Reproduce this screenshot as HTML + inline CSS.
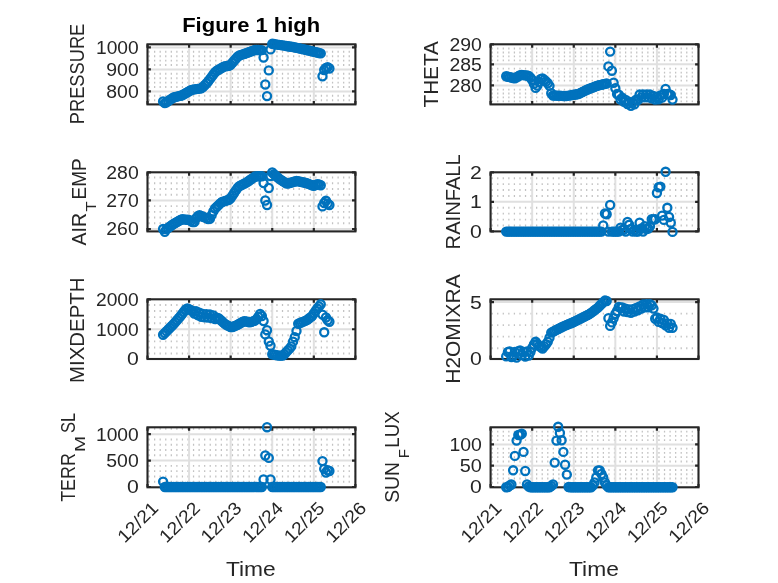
<!DOCTYPE html>
<html><head><meta charset="utf-8"><title>Figure 1 high</title>
<style>html,body{margin:0;padding:0;background:#fff}svg{display:block}</style></head>
<body>
<svg width="778" height="583" viewBox="0 0 778 583" font-family="'Liberation Sans', sans-serif">
<rect width="778" height="583" fill="#fff"/>
<g><path d="M148.45 100.20H354.40M148.45 95.80H354.40M148.45 87.00H354.40M148.45 82.60H354.40M148.45 78.20H354.40M148.45 73.80H354.40M148.45 65.00H354.40M148.45 60.60H354.40M148.45 56.20H354.40M148.45 51.80H354.40" stroke="#c2c2c2" stroke-width="1.9" stroke-dasharray="1.25 4.31" fill="none"/><path d="M147.50 47.40H355.40M147.50 69.40H355.40M147.50 91.40H355.40M189.08 44.30V104.40M230.66 44.30V104.40M272.24 44.30V104.40M313.82 44.30V104.40" stroke="#e0e0e0" stroke-width="2.0" fill="none"/><path d="M147.50 47.40h3.4M355.40 47.40h-3.4M147.50 69.40h3.4M355.40 69.40h-3.4M147.50 91.40h3.4M355.40 91.40h-3.4M147.50 44.30v3.4M147.50 104.40v-3.4M189.08 44.30v3.4M189.08 104.40v-3.4M230.66 44.30v3.4M230.66 104.40v-3.4M272.24 44.30v3.4M272.24 104.40v-3.4M313.82 44.30v3.4M313.82 104.40v-3.4M355.40 44.30v3.4M355.40 104.40v-3.4" stroke="#262626" stroke-width="2.2" fill="none"/><rect x="147.50" y="44.30" width="207.90" height="60.10" fill="none" stroke="#262626" stroke-width="2.1"/><g fill="none" stroke="#0072BD" stroke-width="2.3"><circle cx="163.09" cy="101.50" r="4.05"/><circle cx="164.82" cy="103.13" r="4.05"/><circle cx="166.56" cy="102.21" r="4.05"/><circle cx="168.29" cy="101.00" r="4.05"/><circle cx="170.02" cy="99.79" r="4.05"/><circle cx="171.75" cy="98.58" r="4.05"/><circle cx="173.49" cy="97.45" r="4.05"/><circle cx="175.22" cy="97.03" r="4.05"/><circle cx="176.95" cy="96.60" r="4.05"/><circle cx="178.69" cy="96.17" r="4.05"/><circle cx="180.42" cy="95.74" r="4.05"/><circle cx="182.15" cy="95.20" r="4.05"/><circle cx="183.88" cy="94.20" r="4.05"/><circle cx="185.62" cy="93.20" r="4.05"/><circle cx="187.35" cy="92.21" r="4.05"/><circle cx="189.08" cy="91.21" r="4.05"/><circle cx="190.81" cy="90.21" r="4.05"/><circle cx="192.55" cy="89.58" r="4.05"/><circle cx="194.28" cy="89.34" r="4.05"/><circle cx="196.01" cy="89.09" r="4.05"/><circle cx="197.74" cy="88.85" r="4.05"/><circle cx="199.47" cy="88.60" r="4.05"/><circle cx="201.21" cy="88.36" r="4.05"/><circle cx="202.94" cy="86.96" r="4.05"/><circle cx="204.67" cy="85.23" r="4.05"/><circle cx="206.41" cy="83.49" r="4.05"/><circle cx="208.14" cy="81.45" r="4.05"/><circle cx="209.87" cy="79.15" r="4.05"/><circle cx="211.60" cy="76.85" r="4.05"/><circle cx="213.33" cy="74.54" r="4.05"/><circle cx="215.07" cy="72.24" r="4.05"/><circle cx="216.80" cy="70.75" r="4.05"/><circle cx="218.53" cy="69.73" r="4.05"/><circle cx="220.26" cy="68.71" r="4.05"/><circle cx="222.00" cy="67.70" r="4.05"/><circle cx="223.73" cy="66.68" r="4.05"/><circle cx="225.46" cy="66.24" r="4.05"/><circle cx="227.19" cy="66.03" r="4.05"/><circle cx="228.93" cy="65.82" r="4.05"/><circle cx="230.66" cy="64.81" r="4.05"/><circle cx="232.39" cy="62.80" r="4.05"/><circle cx="234.12" cy="60.78" r="4.05"/><circle cx="235.86" cy="58.76" r="4.05"/><circle cx="237.59" cy="56.74" r="4.05"/><circle cx="239.32" cy="55.49" r="4.05"/><circle cx="241.06" cy="54.91" r="4.05"/><circle cx="242.79" cy="54.34" r="4.05"/><circle cx="244.52" cy="53.76" r="4.05"/><circle cx="246.25" cy="53.18" r="4.05"/><circle cx="247.99" cy="52.57" r="4.05"/><circle cx="249.72" cy="51.93" r="4.05"/><circle cx="251.45" cy="51.30" r="4.05"/><circle cx="253.18" cy="50.66" r="4.05"/><circle cx="254.91" cy="50.03" r="4.05"/><circle cx="256.65" cy="50.03" r="4.05"/><circle cx="258.38" cy="50.05" r="4.05"/><circle cx="260.11" cy="50.08" r="4.05"/><circle cx="261.85" cy="50.10" r="4.05"/><circle cx="263.58" cy="57.50" r="4.05"/><circle cx="265.31" cy="84.50" r="4.05"/><circle cx="267.04" cy="96.10" r="4.05"/><circle cx="268.77" cy="70.40" r="4.05"/><circle cx="270.51" cy="49.40" r="4.05"/><circle cx="272.24" cy="43.81" r="4.05"/><circle cx="273.97" cy="44.07" r="4.05"/><circle cx="275.70" cy="44.34" r="4.05"/><circle cx="277.44" cy="44.60" r="4.05"/><circle cx="279.17" cy="44.87" r="4.05"/><circle cx="280.90" cy="45.14" r="4.05"/><circle cx="282.63" cy="45.40" r="4.05"/><circle cx="284.37" cy="45.67" r="4.05"/><circle cx="286.10" cy="45.93" r="4.05"/><circle cx="287.83" cy="46.20" r="4.05"/><circle cx="289.56" cy="46.46" r="4.05"/><circle cx="291.30" cy="46.73" r="4.05"/><circle cx="293.03" cy="47.04" r="4.05"/><circle cx="294.76" cy="47.42" r="4.05"/><circle cx="296.50" cy="47.79" r="4.05"/><circle cx="298.23" cy="48.17" r="4.05"/><circle cx="299.96" cy="48.55" r="4.05"/><circle cx="301.69" cy="48.93" r="4.05"/><circle cx="303.42" cy="49.31" r="4.05"/><circle cx="305.16" cy="49.69" r="4.05"/><circle cx="306.89" cy="50.07" r="4.05"/><circle cx="308.62" cy="50.49" r="4.05"/><circle cx="310.36" cy="50.90" r="4.05"/><circle cx="312.09" cy="51.32" r="4.05"/><circle cx="313.82" cy="51.73" r="4.05"/><circle cx="315.55" cy="52.15" r="4.05"/><circle cx="317.28" cy="52.57" r="4.05"/><circle cx="319.02" cy="52.98" r="4.05"/><circle cx="320.75" cy="53.40" r="4.05"/><circle cx="322.48" cy="76.30" r="4.05"/><circle cx="324.22" cy="70.00" r="4.05"/><circle cx="325.95" cy="68.00" r="4.05"/><circle cx="327.68" cy="67.10" r="4.05"/><circle cx="329.41" cy="68.50" r="4.05"/></g><text x="138.70" y="53.85" font-size="18" text-anchor="end" fill="#262626" textLength="42.7" lengthAdjust="spacingAndGlyphs">1000</text><text x="138.70" y="75.85" font-size="18" text-anchor="end" fill="#262626" textLength="32.4" lengthAdjust="spacingAndGlyphs">900</text><text x="138.70" y="97.85" font-size="18" text-anchor="end" fill="#262626" textLength="32.4" lengthAdjust="spacingAndGlyphs">800</text><text transform="translate(83.80 124.20) rotate(-90)" font-size="19.6" fill="#262626" textLength="100.5" lengthAdjust="spacingAndGlyphs">PRESSURE</text></g>
<g><path d="M491.55 48.50H697.50M491.55 52.50H697.50M491.55 56.40H697.50M491.55 60.40H697.50M491.55 68.60H697.50M491.55 72.60H697.50M491.55 76.50H697.50M491.55 80.60H697.50M491.55 89.60H697.50M491.55 93.50H697.50M491.55 97.40H697.50M491.55 101.40H697.50" stroke="#c2c2c2" stroke-width="1.9" stroke-dasharray="1.25 4.31" fill="none"/><path d="M490.60 64.30H698.50M490.60 85.40H698.50M532.18 44.30V104.40M573.76 44.30V104.40M615.34 44.30V104.40M656.92 44.30V104.40" stroke="#e0e0e0" stroke-width="2.0" fill="none"/><path d="M490.60 44.30h3.4M698.50 44.30h-3.4M490.60 64.30h3.4M698.50 64.30h-3.4M490.60 85.40h3.4M698.50 85.40h-3.4M490.60 44.30v3.4M490.60 104.40v-3.4M532.18 44.30v3.4M532.18 104.40v-3.4M573.76 44.30v3.4M573.76 104.40v-3.4M615.34 44.30v3.4M615.34 104.40v-3.4M656.92 44.30v3.4M656.92 104.40v-3.4M698.50 44.30v3.4M698.50 104.40v-3.4" stroke="#262626" stroke-width="2.2" fill="none"/><rect x="490.60" y="44.30" width="207.90" height="60.10" fill="none" stroke="#262626" stroke-width="2.1"/><g fill="none" stroke="#0072BD" stroke-width="2.3"><circle cx="506.19" cy="76.30" r="4.05"/><circle cx="507.93" cy="76.72" r="4.05"/><circle cx="509.66" cy="77.13" r="4.05"/><circle cx="511.39" cy="77.55" r="4.05"/><circle cx="513.12" cy="77.97" r="4.05"/><circle cx="514.86" cy="78.39" r="4.05"/><circle cx="516.59" cy="77.35" r="4.05"/><circle cx="518.32" cy="76.26" r="4.05"/><circle cx="520.05" cy="75.18" r="4.05"/><circle cx="521.78" cy="75.02" r="4.05"/><circle cx="523.52" cy="75.17" r="4.05"/><circle cx="525.25" cy="75.33" r="4.05"/><circle cx="526.98" cy="75.48" r="4.05"/><circle cx="528.72" cy="76.02" r="4.05"/><circle cx="530.45" cy="77.75" r="4.05"/><circle cx="532.18" cy="79.95" r="4.05"/><circle cx="533.91" cy="83.81" r="4.05"/><circle cx="535.64" cy="87.92" r="4.05"/><circle cx="537.38" cy="85.64" r="4.05"/><circle cx="539.11" cy="82.02" r="4.05"/><circle cx="540.84" cy="78.98" r="4.05"/><circle cx="542.58" cy="78.47" r="4.05"/><circle cx="544.31" cy="79.99" r="4.05"/><circle cx="546.04" cy="81.51" r="4.05"/><circle cx="547.77" cy="83.26" r="4.05"/><circle cx="549.50" cy="85.86" r="4.05"/><circle cx="551.24" cy="93.20" r="4.05"/><circle cx="552.97" cy="95.47" r="4.05"/><circle cx="554.70" cy="95.55" r="4.05"/><circle cx="556.44" cy="95.64" r="4.05"/><circle cx="558.17" cy="95.72" r="4.05"/><circle cx="559.90" cy="95.81" r="4.05"/><circle cx="561.63" cy="95.89" r="4.05"/><circle cx="563.37" cy="95.98" r="4.05"/><circle cx="565.10" cy="96.07" r="4.05"/><circle cx="566.83" cy="95.93" r="4.05"/><circle cx="568.56" cy="95.64" r="4.05"/><circle cx="570.30" cy="95.36" r="4.05"/><circle cx="572.03" cy="95.07" r="4.05"/><circle cx="573.76" cy="94.78" r="4.05"/><circle cx="575.49" cy="94.50" r="4.05"/><circle cx="577.23" cy="94.21" r="4.05"/><circle cx="578.96" cy="93.77" r="4.05"/><circle cx="580.69" cy="92.89" r="4.05"/><circle cx="582.42" cy="92.02" r="4.05"/><circle cx="584.15" cy="91.14" r="4.05"/><circle cx="585.89" cy="90.26" r="4.05"/><circle cx="587.62" cy="89.46" r="4.05"/><circle cx="589.35" cy="88.80" r="4.05"/><circle cx="591.09" cy="88.14" r="4.05"/><circle cx="592.82" cy="87.48" r="4.05"/><circle cx="594.55" cy="86.82" r="4.05"/><circle cx="596.28" cy="86.16" r="4.05"/><circle cx="598.01" cy="85.50" r="4.05"/><circle cx="599.75" cy="85.10" r="4.05"/><circle cx="601.48" cy="84.70" r="4.05"/><circle cx="603.21" cy="84.30" r="4.05"/><circle cx="604.95" cy="83.90" r="4.05"/><circle cx="606.68" cy="83.50" r="4.05"/><circle cx="608.41" cy="66.40" r="4.05"/><circle cx="610.14" cy="51.60" r="4.05"/><circle cx="611.88" cy="70.70" r="4.05"/><circle cx="613.61" cy="82.70" r="4.05"/><circle cx="615.34" cy="88.30" r="4.05"/><circle cx="617.07" cy="94.07" r="4.05"/><circle cx="618.81" cy="94.76" r="4.05"/><circle cx="620.54" cy="99.46" r="4.05"/><circle cx="622.27" cy="97.81" r="4.05"/><circle cx="624.00" cy="101.91" r="4.05"/><circle cx="625.74" cy="100.00" r="4.05"/><circle cx="627.47" cy="104.03" r="4.05"/><circle cx="629.20" cy="101.90" r="4.05"/><circle cx="630.93" cy="105.77" r="4.05"/><circle cx="632.66" cy="102.17" r="4.05"/><circle cx="634.40" cy="104.30" r="4.05"/><circle cx="636.13" cy="99.71" r="4.05"/><circle cx="637.86" cy="100.13" r="4.05"/><circle cx="639.60" cy="94.56" r="4.05"/><circle cx="641.33" cy="97.40" r="4.05"/><circle cx="643.06" cy="94.40" r="4.05"/><circle cx="644.79" cy="97.40" r="4.05"/><circle cx="646.52" cy="94.40" r="4.05"/><circle cx="648.26" cy="97.40" r="4.05"/><circle cx="649.99" cy="94.56" r="4.05"/><circle cx="651.72" cy="98.25" r="4.05"/><circle cx="653.46" cy="95.94" r="4.05"/><circle cx="655.19" cy="99.63" r="4.05"/><circle cx="656.92" cy="97.04" r="4.05"/><circle cx="658.65" cy="99.20" r="4.05"/><circle cx="660.38" cy="95.35" r="4.05"/><circle cx="662.12" cy="97.67" r="4.05"/><circle cx="663.85" cy="94.05" r="4.05"/><circle cx="665.58" cy="89.00" r="4.05"/><circle cx="667.32" cy="94.05" r="4.05"/><circle cx="669.05" cy="94.27" r="4.05"/><circle cx="670.78" cy="95.00" r="4.05"/><circle cx="672.51" cy="99.60" r="4.05"/></g><text x="481.80" y="50.75" font-size="18" text-anchor="end" fill="#262626" textLength="32.4" lengthAdjust="spacingAndGlyphs">290</text><text x="481.80" y="70.75" font-size="18" text-anchor="end" fill="#262626" textLength="32.4" lengthAdjust="spacingAndGlyphs">285</text><text x="481.80" y="91.85" font-size="18" text-anchor="end" fill="#262626" textLength="32.4" lengthAdjust="spacingAndGlyphs">280</text><text transform="translate(438.10 107.50) rotate(-90)" font-size="19.6" fill="#262626" textLength="66.3" lengthAdjust="spacingAndGlyphs">THETA</text></g>
<g><path d="M148.45 223.28H354.40M148.45 217.56H354.40M148.45 211.84H354.40M148.45 206.12H354.40M148.45 194.68H354.40M148.45 188.96H354.40M148.45 183.24H354.40M148.45 177.52H354.40" stroke="#c2c2c2" stroke-width="1.9" stroke-dasharray="1.25 4.31" fill="none"/><path d="M147.50 200.40H355.40M147.50 229.00H355.40M189.08 172.30V231.40M230.66 172.30V231.40M272.24 172.30V231.40M313.82 172.30V231.40" stroke="#e0e0e0" stroke-width="2.0" fill="none"/><path d="M147.50 172.30h3.4M355.40 172.30h-3.4M147.50 200.40h3.4M355.40 200.40h-3.4M147.50 229.00h3.4M355.40 229.00h-3.4M147.50 172.30v3.4M147.50 231.40v-3.4M189.08 172.30v3.4M189.08 231.40v-3.4M230.66 172.30v3.4M230.66 231.40v-3.4M272.24 172.30v3.4M272.24 231.40v-3.4M313.82 172.30v3.4M313.82 231.40v-3.4M355.40 172.30v3.4M355.40 231.40v-3.4" stroke="#262626" stroke-width="2.2" fill="none"/><rect x="147.50" y="172.30" width="207.90" height="59.10" fill="none" stroke="#262626" stroke-width="2.1"/><g fill="none" stroke="#0072BD" stroke-width="2.3"><circle cx="163.09" cy="229.05" r="4.05"/><circle cx="164.82" cy="231.86" r="4.05"/><circle cx="166.56" cy="228.96" r="4.05"/><circle cx="168.29" cy="227.71" r="4.05"/><circle cx="170.02" cy="226.46" r="4.05"/><circle cx="171.75" cy="225.21" r="4.05"/><circle cx="173.49" cy="223.99" r="4.05"/><circle cx="175.22" cy="222.99" r="4.05"/><circle cx="176.95" cy="221.99" r="4.05"/><circle cx="178.69" cy="221.00" r="4.05"/><circle cx="180.42" cy="220.00" r="4.05"/><circle cx="182.15" cy="219.23" r="4.05"/><circle cx="183.88" cy="219.41" r="4.05"/><circle cx="185.62" cy="219.58" r="4.05"/><circle cx="187.35" cy="219.75" r="4.05"/><circle cx="189.08" cy="220.04" r="4.05"/><circle cx="190.81" cy="220.91" r="4.05"/><circle cx="192.55" cy="222.08" r="4.05"/><circle cx="194.28" cy="222.16" r="4.05"/><circle cx="196.01" cy="218.35" r="4.05"/><circle cx="197.74" cy="216.13" r="4.05"/><circle cx="199.47" cy="215.23" r="4.05"/><circle cx="201.21" cy="215.96" r="4.05"/><circle cx="202.94" cy="216.70" r="4.05"/><circle cx="204.67" cy="217.43" r="4.05"/><circle cx="206.41" cy="218.16" r="4.05"/><circle cx="208.14" cy="219.10" r="4.05"/><circle cx="209.87" cy="218.88" r="4.05"/><circle cx="211.60" cy="215.14" r="4.05"/><circle cx="213.33" cy="211.39" r="4.05"/><circle cx="215.07" cy="208.53" r="4.05"/><circle cx="216.80" cy="206.80" r="4.05"/><circle cx="218.53" cy="205.07" r="4.05"/><circle cx="220.26" cy="203.34" r="4.05"/><circle cx="222.00" cy="202.00" r="4.05"/><circle cx="223.73" cy="201.43" r="4.05"/><circle cx="225.46" cy="200.86" r="4.05"/><circle cx="227.19" cy="200.29" r="4.05"/><circle cx="228.93" cy="199.72" r="4.05"/><circle cx="230.66" cy="198.26" r="4.05"/><circle cx="232.39" cy="195.65" r="4.05"/><circle cx="234.12" cy="193.04" r="4.05"/><circle cx="235.86" cy="190.43" r="4.05"/><circle cx="237.59" cy="187.82" r="4.05"/><circle cx="239.32" cy="186.14" r="4.05"/><circle cx="241.06" cy="185.27" r="4.05"/><circle cx="242.79" cy="184.41" r="4.05"/><circle cx="244.52" cy="183.54" r="4.05"/><circle cx="246.25" cy="182.67" r="4.05"/><circle cx="247.99" cy="181.55" r="4.05"/><circle cx="249.72" cy="180.30" r="4.05"/><circle cx="251.45" cy="179.05" r="4.05"/><circle cx="253.18" cy="177.81" r="4.05"/><circle cx="254.91" cy="176.56" r="4.05"/><circle cx="256.65" cy="176.37" r="4.05"/><circle cx="258.38" cy="176.23" r="4.05"/><circle cx="260.11" cy="176.09" r="4.05"/><circle cx="261.85" cy="176.27" r="4.05"/><circle cx="263.58" cy="183.10" r="4.05"/><circle cx="265.31" cy="200.50" r="4.05"/><circle cx="267.04" cy="205.00" r="4.05"/><circle cx="268.77" cy="188.00" r="4.05"/><circle cx="270.51" cy="176.00" r="4.05"/><circle cx="272.24" cy="172.49" r="4.05"/><circle cx="273.97" cy="174.09" r="4.05"/><circle cx="275.70" cy="175.70" r="4.05"/><circle cx="277.44" cy="177.30" r="4.05"/><circle cx="279.17" cy="178.68" r="4.05"/><circle cx="280.90" cy="179.85" r="4.05"/><circle cx="282.63" cy="181.01" r="4.05"/><circle cx="284.37" cy="182.17" r="4.05"/><circle cx="286.10" cy="183.33" r="4.05"/><circle cx="287.83" cy="183.51" r="4.05"/><circle cx="289.56" cy="183.02" r="4.05"/><circle cx="291.30" cy="182.53" r="4.05"/><circle cx="293.03" cy="182.04" r="4.05"/><circle cx="294.76" cy="181.55" r="4.05"/><circle cx="296.50" cy="181.06" r="4.05"/><circle cx="298.23" cy="181.32" r="4.05"/><circle cx="299.96" cy="181.69" r="4.05"/><circle cx="301.69" cy="182.06" r="4.05"/><circle cx="303.42" cy="182.43" r="4.05"/><circle cx="305.16" cy="182.79" r="4.05"/><circle cx="306.89" cy="183.22" r="4.05"/><circle cx="308.62" cy="183.91" r="4.05"/><circle cx="310.36" cy="184.60" r="4.05"/><circle cx="312.09" cy="185.29" r="4.05"/><circle cx="313.82" cy="185.79" r="4.05"/><circle cx="315.55" cy="184.95" r="4.05"/><circle cx="317.28" cy="184.10" r="4.05"/><circle cx="319.02" cy="184.35" r="4.05"/><circle cx="320.75" cy="185.20" r="4.05"/><circle cx="322.48" cy="206.40" r="4.05"/><circle cx="324.22" cy="203.00" r="4.05"/><circle cx="325.95" cy="200.80" r="4.05"/><circle cx="327.68" cy="203.60" r="4.05"/><circle cx="329.41" cy="205.00" r="4.05"/></g><text x="138.70" y="178.75" font-size="18" text-anchor="end" fill="#262626" textLength="32.4" lengthAdjust="spacingAndGlyphs">280</text><text x="138.70" y="206.85" font-size="18" text-anchor="end" fill="#262626" textLength="32.4" lengthAdjust="spacingAndGlyphs">270</text><text x="138.70" y="235.45" font-size="18" text-anchor="end" fill="#262626" textLength="32.4" lengthAdjust="spacingAndGlyphs">260</text><text transform="translate(85.90 245.40) rotate(-90)" font-size="19.6" fill="#262626" textLength="32.5" lengthAdjust="spacingAndGlyphs">AIR</text><text transform="translate(95.70 211.70) rotate(-90)" font-size="14" fill="#262626" textLength="10.5" lengthAdjust="spacingAndGlyphs">T</text><text transform="translate(85.90 199.50) rotate(-90)" font-size="19.6" fill="#262626" textLength="41.1" lengthAdjust="spacingAndGlyphs">EMP</text></g>
<g><path d="M491.55 225.49H697.50M491.55 219.58H697.50M491.55 213.67H697.50M491.55 207.76H697.50M491.55 195.94H697.50M491.55 190.03H697.50M491.55 184.12H697.50M491.55 178.21H697.50" stroke="#c2c2c2" stroke-width="1.9" stroke-dasharray="1.25 4.31" fill="none"/><path d="M490.60 201.85H698.50M532.18 172.30V231.40M573.76 172.30V231.40M615.34 172.30V231.40M656.92 172.30V231.40" stroke="#e0e0e0" stroke-width="2.0" fill="none"/><path d="M490.60 172.30h3.4M698.50 172.30h-3.4M490.60 201.85h3.4M698.50 201.85h-3.4M490.60 231.40h3.4M698.50 231.40h-3.4M490.60 172.30v3.4M490.60 231.40v-3.4M532.18 172.30v3.4M532.18 231.40v-3.4M573.76 172.30v3.4M573.76 231.40v-3.4M615.34 172.30v3.4M615.34 231.40v-3.4M656.92 172.30v3.4M656.92 231.40v-3.4M698.50 172.30v3.4M698.50 231.40v-3.4" stroke="#262626" stroke-width="2.2" fill="none"/><rect x="490.60" y="172.30" width="207.90" height="59.10" fill="none" stroke="#262626" stroke-width="2.1"/><g fill="none" stroke="#0072BD" stroke-width="2.3"><circle cx="506.19" cy="231.60" r="4.05"/><circle cx="507.93" cy="231.60" r="4.05"/><circle cx="509.66" cy="231.60" r="4.05"/><circle cx="511.39" cy="231.60" r="4.05"/><circle cx="513.12" cy="231.60" r="4.05"/><circle cx="514.86" cy="231.60" r="4.05"/><circle cx="516.59" cy="231.60" r="4.05"/><circle cx="518.32" cy="231.60" r="4.05"/><circle cx="520.05" cy="231.60" r="4.05"/><circle cx="521.78" cy="231.60" r="4.05"/><circle cx="523.52" cy="231.60" r="4.05"/><circle cx="525.25" cy="231.60" r="4.05"/><circle cx="526.98" cy="231.60" r="4.05"/><circle cx="528.72" cy="231.60" r="4.05"/><circle cx="530.45" cy="231.60" r="4.05"/><circle cx="532.18" cy="231.60" r="4.05"/><circle cx="533.91" cy="231.60" r="4.05"/><circle cx="535.64" cy="231.60" r="4.05"/><circle cx="537.38" cy="231.60" r="4.05"/><circle cx="539.11" cy="231.60" r="4.05"/><circle cx="540.84" cy="231.60" r="4.05"/><circle cx="542.58" cy="231.60" r="4.05"/><circle cx="544.31" cy="231.60" r="4.05"/><circle cx="546.04" cy="231.60" r="4.05"/><circle cx="547.77" cy="231.60" r="4.05"/><circle cx="549.50" cy="231.60" r="4.05"/><circle cx="551.24" cy="231.60" r="4.05"/><circle cx="552.97" cy="231.60" r="4.05"/><circle cx="554.70" cy="231.60" r="4.05"/><circle cx="556.44" cy="231.60" r="4.05"/><circle cx="558.17" cy="231.60" r="4.05"/><circle cx="559.90" cy="231.60" r="4.05"/><circle cx="561.63" cy="231.60" r="4.05"/><circle cx="563.37" cy="231.60" r="4.05"/><circle cx="565.10" cy="231.60" r="4.05"/><circle cx="566.83" cy="231.60" r="4.05"/><circle cx="568.56" cy="231.60" r="4.05"/><circle cx="570.30" cy="231.60" r="4.05"/><circle cx="572.03" cy="231.60" r="4.05"/><circle cx="573.76" cy="231.60" r="4.05"/><circle cx="575.49" cy="231.60" r="4.05"/><circle cx="577.23" cy="231.60" r="4.05"/><circle cx="578.96" cy="231.60" r="4.05"/><circle cx="580.69" cy="231.60" r="4.05"/><circle cx="582.42" cy="231.60" r="4.05"/><circle cx="584.15" cy="231.60" r="4.05"/><circle cx="585.89" cy="231.60" r="4.05"/><circle cx="587.62" cy="231.60" r="4.05"/><circle cx="589.35" cy="231.60" r="4.05"/><circle cx="591.09" cy="231.60" r="4.05"/><circle cx="592.82" cy="231.60" r="4.05"/><circle cx="594.55" cy="231.60" r="4.05"/><circle cx="596.28" cy="231.60" r="4.05"/><circle cx="598.01" cy="231.60" r="4.05"/><circle cx="599.75" cy="231.60" r="4.05"/><circle cx="601.48" cy="231.60" r="4.05"/><circle cx="603.21" cy="225.50" r="4.05"/><circle cx="604.95" cy="213.50" r="4.05"/><circle cx="606.68" cy="214.20" r="4.05"/><circle cx="608.41" cy="231.60" r="4.05"/><circle cx="610.14" cy="205.00" r="4.05"/><circle cx="611.88" cy="231.60" r="4.05"/><circle cx="613.61" cy="231.60" r="4.05"/><circle cx="615.34" cy="231.60" r="4.05"/><circle cx="617.07" cy="231.60" r="4.05"/><circle cx="618.81" cy="231.60" r="4.05"/><circle cx="620.54" cy="227.60" r="4.05"/><circle cx="622.27" cy="230.00" r="4.05"/><circle cx="624.00" cy="229.50" r="4.05"/><circle cx="625.74" cy="231.60" r="4.05"/><circle cx="627.47" cy="222.00" r="4.05"/><circle cx="629.20" cy="224.80" r="4.05"/><circle cx="630.93" cy="229.00" r="4.05"/><circle cx="632.66" cy="231.60" r="4.05"/><circle cx="634.40" cy="230.00" r="4.05"/><circle cx="636.13" cy="231.60" r="4.05"/><circle cx="637.86" cy="231.60" r="4.05"/><circle cx="639.60" cy="222.70" r="4.05"/><circle cx="641.33" cy="228.50" r="4.05"/><circle cx="643.06" cy="231.60" r="4.05"/><circle cx="644.79" cy="226.20" r="4.05"/><circle cx="646.52" cy="229.00" r="4.05"/><circle cx="648.26" cy="228.50" r="4.05"/><circle cx="649.99" cy="226.20" r="4.05"/><circle cx="651.72" cy="219.20" r="4.05"/><circle cx="653.46" cy="219.50" r="4.05"/><circle cx="655.19" cy="219.20" r="4.05"/><circle cx="656.92" cy="193.00" r="4.05"/><circle cx="658.65" cy="187.30" r="4.05"/><circle cx="660.38" cy="186.60" r="4.05"/><circle cx="662.12" cy="215.60" r="4.05"/><circle cx="663.85" cy="219.90" r="4.05"/><circle cx="665.58" cy="171.80" r="4.05"/><circle cx="667.32" cy="207.80" r="4.05"/><circle cx="669.05" cy="217.00" r="4.05"/><circle cx="670.78" cy="222.70" r="4.05"/><circle cx="672.51" cy="231.90" r="4.05"/></g><text x="481.80" y="178.75" font-size="18" text-anchor="end" fill="#262626" textLength="11.8" lengthAdjust="spacingAndGlyphs">2</text><text x="481.80" y="208.30" font-size="18" text-anchor="end" fill="#262626" textLength="11.8" lengthAdjust="spacingAndGlyphs">1</text><text x="481.80" y="237.85" font-size="18" text-anchor="end" fill="#262626" textLength="11.8" lengthAdjust="spacingAndGlyphs">0</text><text transform="translate(460.10 249.40) rotate(-90)" font-size="19.6" fill="#262626" textLength="95.2" lengthAdjust="spacingAndGlyphs">RAINFALL</text></g>
<g><path d="M148.45 353.50H354.40M148.45 347.44H354.40M148.45 341.38H354.40M148.45 335.31H354.40M148.45 323.19H354.40M148.45 317.12H354.40M148.45 311.06H354.40M148.45 305.00H354.40" stroke="#c2c2c2" stroke-width="1.9" stroke-dasharray="1.25 4.31" fill="none"/><path d="M147.50 329.25H355.40M189.08 299.30V359.00M230.66 299.30V359.00M272.24 299.30V359.00M313.82 299.30V359.00" stroke="#e0e0e0" stroke-width="2.0" fill="none"/><path d="M147.50 299.30h3.4M355.40 299.30h-3.4M147.50 329.25h3.4M355.40 329.25h-3.4M147.50 359.00h3.4M355.40 359.00h-3.4M147.50 299.30v3.4M147.50 359.00v-3.4M189.08 299.30v3.4M189.08 359.00v-3.4M230.66 299.30v3.4M230.66 359.00v-3.4M272.24 299.30v3.4M272.24 359.00v-3.4M313.82 299.30v3.4M313.82 359.00v-3.4M355.40 299.30v3.4M355.40 359.00v-3.4" stroke="#262626" stroke-width="2.2" fill="none"/><rect x="147.50" y="299.30" width="207.90" height="59.70" fill="none" stroke="#262626" stroke-width="2.1"/><g fill="none" stroke="#0072BD" stroke-width="2.3"><circle cx="163.09" cy="334.71" r="4.05"/><circle cx="164.82" cy="332.98" r="4.05"/><circle cx="166.56" cy="331.24" r="4.05"/><circle cx="168.29" cy="329.51" r="4.05"/><circle cx="170.02" cy="327.78" r="4.05"/><circle cx="171.75" cy="326.05" r="4.05"/><circle cx="173.49" cy="324.28" r="4.05"/><circle cx="175.22" cy="322.28" r="4.05"/><circle cx="176.95" cy="320.28" r="4.05"/><circle cx="178.69" cy="318.28" r="4.05"/><circle cx="180.42" cy="316.28" r="4.05"/><circle cx="182.15" cy="313.99" r="4.05"/><circle cx="183.88" cy="311.71" r="4.05"/><circle cx="185.62" cy="309.43" r="4.05"/><circle cx="187.35" cy="308.33" r="4.05"/><circle cx="189.08" cy="309.23" r="4.05"/><circle cx="190.81" cy="310.12" r="4.05"/><circle cx="192.55" cy="311.01" r="4.05"/><circle cx="194.28" cy="313.55" r="4.05"/><circle cx="196.01" cy="311.17" r="4.05"/><circle cx="197.74" cy="315.18" r="4.05"/><circle cx="199.47" cy="312.80" r="4.05"/><circle cx="201.21" cy="316.82" r="4.05"/><circle cx="202.94" cy="313.91" r="4.05"/><circle cx="204.67" cy="317.25" r="4.05"/><circle cx="206.41" cy="314.20" r="4.05"/><circle cx="208.14" cy="317.54" r="4.05"/><circle cx="209.87" cy="314.48" r="4.05"/><circle cx="211.60" cy="318.09" r="4.05"/><circle cx="213.33" cy="315.35" r="4.05"/><circle cx="215.07" cy="319.00" r="4.05"/><circle cx="216.80" cy="317.75" r="4.05"/><circle cx="218.53" cy="318.23" r="4.05"/><circle cx="220.26" cy="319.77" r="4.05"/><circle cx="222.00" cy="321.30" r="4.05"/><circle cx="223.73" cy="322.84" r="4.05"/><circle cx="225.46" cy="324.38" r="4.05"/><circle cx="227.19" cy="325.31" r="4.05"/><circle cx="228.93" cy="326.19" r="4.05"/><circle cx="230.66" cy="327.07" r="4.05"/><circle cx="232.39" cy="326.97" r="4.05"/><circle cx="234.12" cy="326.29" r="4.05"/><circle cx="235.86" cy="325.61" r="4.05"/><circle cx="237.59" cy="324.79" r="4.05"/><circle cx="239.32" cy="323.77" r="4.05"/><circle cx="241.06" cy="322.74" r="4.05"/><circle cx="242.79" cy="321.72" r="4.05"/><circle cx="244.52" cy="321.12" r="4.05"/><circle cx="246.25" cy="321.53" r="4.05"/><circle cx="247.99" cy="321.93" r="4.05"/><circle cx="249.72" cy="322.33" r="4.05"/><circle cx="251.45" cy="321.87" r="4.05"/><circle cx="253.18" cy="321.23" r="4.05"/><circle cx="254.91" cy="320.59" r="4.05"/><circle cx="256.65" cy="319.06" r="4.05"/><circle cx="258.38" cy="316.80" r="4.05"/><circle cx="260.11" cy="314.00" r="4.05"/><circle cx="261.85" cy="316.00" r="4.05"/><circle cx="263.58" cy="321.00" r="4.05"/><circle cx="265.31" cy="334.40" r="4.05"/><circle cx="267.04" cy="330.20" r="4.05"/><circle cx="268.77" cy="341.50" r="4.05"/><circle cx="270.51" cy="345.70" r="4.05"/><circle cx="272.24" cy="354.21" r="4.05"/><circle cx="273.97" cy="354.61" r="4.05"/><circle cx="275.70" cy="355.00" r="4.05"/><circle cx="277.44" cy="355.40" r="4.05"/><circle cx="279.17" cy="355.60" r="4.05"/><circle cx="280.90" cy="355.60" r="4.05"/><circle cx="282.63" cy="355.60" r="4.05"/><circle cx="284.37" cy="354.24" r="4.05"/><circle cx="286.10" cy="352.22" r="4.05"/><circle cx="287.83" cy="350.37" r="4.05"/><circle cx="289.56" cy="348.63" r="4.05"/><circle cx="291.30" cy="346.39" r="4.05"/><circle cx="293.03" cy="341.69" r="4.05"/><circle cx="294.76" cy="337.19" r="4.05"/><circle cx="296.50" cy="331.02" r="4.05"/><circle cx="298.23" cy="323.75" r="4.05"/><circle cx="299.96" cy="323.03" r="4.05"/><circle cx="301.69" cy="322.32" r="4.05"/><circle cx="303.42" cy="321.61" r="4.05"/><circle cx="305.16" cy="320.89" r="4.05"/><circle cx="306.89" cy="320.08" r="4.05"/><circle cx="308.62" cy="318.75" r="4.05"/><circle cx="310.36" cy="317.42" r="4.05"/><circle cx="312.09" cy="316.09" r="4.05"/><circle cx="313.82" cy="313.55" r="4.05"/><circle cx="315.55" cy="310.93" r="4.05"/><circle cx="317.28" cy="308.54" r="4.05"/><circle cx="319.02" cy="306.42" r="4.05"/><circle cx="320.75" cy="304.30" r="4.05"/><circle cx="322.48" cy="314.60" r="4.05"/><circle cx="324.22" cy="332.30" r="4.05"/><circle cx="325.95" cy="317.50" r="4.05"/><circle cx="327.68" cy="320.30" r="4.05"/><circle cx="329.41" cy="321.70" r="4.05"/></g><text x="138.70" y="305.75" font-size="18" text-anchor="end" fill="#262626" textLength="42.7" lengthAdjust="spacingAndGlyphs">2000</text><text x="138.70" y="335.70" font-size="18" text-anchor="end" fill="#262626" textLength="42.7" lengthAdjust="spacingAndGlyphs">1000</text><text x="138.70" y="365.45" font-size="18" text-anchor="end" fill="#262626" textLength="11.8" lengthAdjust="spacingAndGlyphs">0</text><text transform="translate(83.80 383.00) rotate(-90)" font-size="19.6" fill="#262626" textLength="105.5" lengthAdjust="spacingAndGlyphs">MIXDEPTH</text></g>
<g><path d="M491.55 348.20H697.50M491.55 336.67H697.50M491.55 325.13H697.50M491.55 313.60H697.50" stroke="#c2c2c2" stroke-width="1.9" stroke-dasharray="1.25 4.31" fill="none"/><path d="M490.60 302.07H698.50M532.18 299.30V359.00M573.76 299.30V359.00M615.34 299.30V359.00M656.92 299.30V359.00" stroke="#e0e0e0" stroke-width="2.0" fill="none"/><path d="M490.60 302.07h3.4M698.50 302.07h-3.4M490.60 359.00h3.4M698.50 359.00h-3.4M490.60 299.30v3.4M490.60 359.00v-3.4M532.18 299.30v3.4M532.18 359.00v-3.4M573.76 299.30v3.4M573.76 359.00v-3.4M615.34 299.30v3.4M615.34 359.00v-3.4M656.92 299.30v3.4M656.92 359.00v-3.4M698.50 299.30v3.4M698.50 359.00v-3.4" stroke="#262626" stroke-width="2.2" fill="none"/><rect x="490.60" y="299.30" width="207.90" height="59.70" fill="none" stroke="#262626" stroke-width="2.1"/><g fill="none" stroke="#0072BD" stroke-width="2.3"><circle cx="506.19" cy="356.40" r="4.05"/><circle cx="507.93" cy="352.00" r="4.05"/><circle cx="509.66" cy="351.50" r="4.05"/><circle cx="511.39" cy="357.00" r="4.05"/><circle cx="513.12" cy="356.00" r="4.05"/><circle cx="514.86" cy="352.00" r="4.05"/><circle cx="516.59" cy="357.50" r="4.05"/><circle cx="518.32" cy="351.20" r="4.05"/><circle cx="520.05" cy="350.50" r="4.05"/><circle cx="521.78" cy="355.00" r="4.05"/><circle cx="523.52" cy="352.00" r="4.05"/><circle cx="525.25" cy="356.50" r="4.05"/><circle cx="526.98" cy="351.50" r="4.05"/><circle cx="528.72" cy="355.50" r="4.05"/><circle cx="530.45" cy="352.00" r="4.05"/><circle cx="532.18" cy="347.85" r="4.05"/><circle cx="533.91" cy="344.43" r="4.05"/><circle cx="535.64" cy="341.79" r="4.05"/><circle cx="537.38" cy="343.87" r="4.05"/><circle cx="539.11" cy="345.87" r="4.05"/><circle cx="540.84" cy="347.26" r="4.05"/><circle cx="542.58" cy="348.51" r="4.05"/><circle cx="544.31" cy="346.38" r="4.05"/><circle cx="546.04" cy="344.24" r="4.05"/><circle cx="547.77" cy="341.82" r="4.05"/><circle cx="549.50" cy="337.71" r="4.05"/><circle cx="551.24" cy="332.62" r="4.05"/><circle cx="552.97" cy="331.72" r="4.05"/><circle cx="554.70" cy="330.82" r="4.05"/><circle cx="556.44" cy="329.93" r="4.05"/><circle cx="558.17" cy="329.05" r="4.05"/><circle cx="559.90" cy="328.18" r="4.05"/><circle cx="561.63" cy="327.30" r="4.05"/><circle cx="563.37" cy="326.42" r="4.05"/><circle cx="565.10" cy="325.61" r="4.05"/><circle cx="566.83" cy="324.90" r="4.05"/><circle cx="568.56" cy="324.19" r="4.05"/><circle cx="570.30" cy="323.47" r="4.05"/><circle cx="572.03" cy="322.76" r="4.05"/><circle cx="573.76" cy="321.98" r="4.05"/><circle cx="575.49" cy="321.12" r="4.05"/><circle cx="577.23" cy="320.26" r="4.05"/><circle cx="578.96" cy="319.41" r="4.05"/><circle cx="580.69" cy="318.55" r="4.05"/><circle cx="582.42" cy="317.68" r="4.05"/><circle cx="584.15" cy="316.79" r="4.05"/><circle cx="585.89" cy="315.90" r="4.05"/><circle cx="587.62" cy="315.02" r="4.05"/><circle cx="589.35" cy="314.13" r="4.05"/><circle cx="591.09" cy="312.91" r="4.05"/><circle cx="592.82" cy="311.58" r="4.05"/><circle cx="594.55" cy="310.25" r="4.05"/><circle cx="596.28" cy="308.92" r="4.05"/><circle cx="598.01" cy="307.58" r="4.05"/><circle cx="599.75" cy="305.77" r="4.05"/><circle cx="601.48" cy="304.02" r="4.05"/><circle cx="603.21" cy="302.29" r="4.05"/><circle cx="604.95" cy="300.56" r="4.05"/><circle cx="606.68" cy="301.00" r="4.05"/><circle cx="608.41" cy="318.20" r="4.05"/><circle cx="610.14" cy="325.90" r="4.05"/><circle cx="611.88" cy="322.40" r="4.05"/><circle cx="613.61" cy="318.20" r="4.05"/><circle cx="615.34" cy="314.00" r="4.05"/><circle cx="617.07" cy="311.00" r="4.05"/><circle cx="618.81" cy="306.90" r="4.05"/><circle cx="620.54" cy="307.82" r="4.05"/><circle cx="622.27" cy="307.43" r="4.05"/><circle cx="624.00" cy="311.45" r="4.05"/><circle cx="625.74" cy="308.72" r="4.05"/><circle cx="627.47" cy="312.16" r="4.05"/><circle cx="629.20" cy="309.41" r="4.05"/><circle cx="630.93" cy="312.85" r="4.05"/><circle cx="632.66" cy="309.22" r="4.05"/><circle cx="634.40" cy="311.64" r="4.05"/><circle cx="636.13" cy="307.86" r="4.05"/><circle cx="637.86" cy="310.27" r="4.05"/><circle cx="639.60" cy="306.33" r="4.05"/><circle cx="641.33" cy="308.53" r="4.05"/><circle cx="643.06" cy="304.53" r="4.05"/><circle cx="644.79" cy="307.20" r="4.05"/><circle cx="646.52" cy="304.10" r="4.05"/><circle cx="648.26" cy="307.20" r="4.05"/><circle cx="649.99" cy="304.10" r="4.05"/><circle cx="651.72" cy="305.40" r="4.05"/><circle cx="653.46" cy="308.62" r="4.05"/><circle cx="655.19" cy="318.77" r="4.05"/><circle cx="656.92" cy="317.56" r="4.05"/><circle cx="658.65" cy="321.92" r="4.05"/><circle cx="660.38" cy="318.70" r="4.05"/><circle cx="662.12" cy="323.07" r="4.05"/><circle cx="663.85" cy="319.95" r="4.05"/><circle cx="665.58" cy="325.44" r="4.05"/><circle cx="667.32" cy="323.33" r="4.05"/><circle cx="669.05" cy="327.80" r="4.05"/><circle cx="670.78" cy="324.00" r="4.05"/><circle cx="672.51" cy="327.80" r="4.05"/></g><text x="481.80" y="308.52" font-size="18" text-anchor="end" fill="#262626" textLength="11.8" lengthAdjust="spacingAndGlyphs">5</text><text x="481.80" y="365.45" font-size="18" text-anchor="end" fill="#262626" textLength="11.8" lengthAdjust="spacingAndGlyphs">0</text><text transform="translate(460.10 383.70) rotate(-90)" font-size="19.6" fill="#262626" textLength="109.3" lengthAdjust="spacingAndGlyphs">H2OMIXRA</text></g>
<g><path d="M148.45 481.72H354.40M148.45 476.44H354.40M148.45 471.16H354.40M148.45 465.88H354.40M148.45 455.32H354.40M148.45 450.04H354.40M148.45 444.76H354.40M148.45 439.48H354.40M148.45 428.92H354.40" stroke="#c2c2c2" stroke-width="1.9" stroke-dasharray="1.25 4.31" fill="none"/><path d="M147.50 434.20H355.40M147.50 460.60H355.40M189.08 427.30V487.30M230.66 427.30V487.30M272.24 427.30V487.30M313.82 427.30V487.30" stroke="#e0e0e0" stroke-width="2.0" fill="none"/><path d="M147.50 434.20h3.4M355.40 434.20h-3.4M147.50 460.60h3.4M355.40 460.60h-3.4M147.50 487.00h3.4M355.40 487.00h-3.4M147.50 427.30v3.4M147.50 487.30v-3.4M189.08 427.30v3.4M189.08 487.30v-3.4M230.66 427.30v3.4M230.66 487.30v-3.4M272.24 427.30v3.4M272.24 487.30v-3.4M313.82 427.30v3.4M313.82 487.30v-3.4M355.40 427.30v3.4M355.40 487.30v-3.4" stroke="#262626" stroke-width="2.2" fill="none"/><rect x="147.50" y="427.30" width="207.90" height="60.00" fill="none" stroke="#262626" stroke-width="2.1"/><g fill="none" stroke="#0072BD" stroke-width="2.3"><circle cx="163.09" cy="481.60" r="4.05"/><circle cx="164.82" cy="487.00" r="4.05"/><circle cx="166.56" cy="487.00" r="4.05"/><circle cx="168.29" cy="487.00" r="4.05"/><circle cx="170.02" cy="487.00" r="4.05"/><circle cx="171.75" cy="487.00" r="4.05"/><circle cx="173.49" cy="487.00" r="4.05"/><circle cx="175.22" cy="487.00" r="4.05"/><circle cx="176.95" cy="487.00" r="4.05"/><circle cx="178.69" cy="487.00" r="4.05"/><circle cx="180.42" cy="487.00" r="4.05"/><circle cx="182.15" cy="487.00" r="4.05"/><circle cx="183.88" cy="487.00" r="4.05"/><circle cx="185.62" cy="487.00" r="4.05"/><circle cx="187.35" cy="487.00" r="4.05"/><circle cx="189.08" cy="487.00" r="4.05"/><circle cx="190.81" cy="487.00" r="4.05"/><circle cx="192.55" cy="487.00" r="4.05"/><circle cx="194.28" cy="487.00" r="4.05"/><circle cx="196.01" cy="487.00" r="4.05"/><circle cx="197.74" cy="487.00" r="4.05"/><circle cx="199.47" cy="487.00" r="4.05"/><circle cx="201.21" cy="487.00" r="4.05"/><circle cx="202.94" cy="487.00" r="4.05"/><circle cx="204.67" cy="487.00" r="4.05"/><circle cx="206.41" cy="487.00" r="4.05"/><circle cx="208.14" cy="487.00" r="4.05"/><circle cx="209.87" cy="487.00" r="4.05"/><circle cx="211.60" cy="487.00" r="4.05"/><circle cx="213.33" cy="487.00" r="4.05"/><circle cx="215.07" cy="487.00" r="4.05"/><circle cx="216.80" cy="487.00" r="4.05"/><circle cx="218.53" cy="487.00" r="4.05"/><circle cx="220.26" cy="487.00" r="4.05"/><circle cx="222.00" cy="487.00" r="4.05"/><circle cx="223.73" cy="487.00" r="4.05"/><circle cx="225.46" cy="487.00" r="4.05"/><circle cx="227.19" cy="487.00" r="4.05"/><circle cx="228.93" cy="487.00" r="4.05"/><circle cx="230.66" cy="487.00" r="4.05"/><circle cx="232.39" cy="487.00" r="4.05"/><circle cx="234.12" cy="487.00" r="4.05"/><circle cx="235.86" cy="487.00" r="4.05"/><circle cx="237.59" cy="487.00" r="4.05"/><circle cx="239.32" cy="487.00" r="4.05"/><circle cx="241.06" cy="487.00" r="4.05"/><circle cx="242.79" cy="487.00" r="4.05"/><circle cx="244.52" cy="487.00" r="4.05"/><circle cx="246.25" cy="487.00" r="4.05"/><circle cx="247.99" cy="487.00" r="4.05"/><circle cx="249.72" cy="487.00" r="4.05"/><circle cx="251.45" cy="487.00" r="4.05"/><circle cx="253.18" cy="487.00" r="4.05"/><circle cx="254.91" cy="487.00" r="4.05"/><circle cx="256.65" cy="487.00" r="4.05"/><circle cx="258.38" cy="487.00" r="4.05"/><circle cx="260.11" cy="487.00" r="4.05"/><circle cx="261.85" cy="487.00" r="4.05"/><circle cx="263.58" cy="479.50" r="4.05"/><circle cx="265.31" cy="455.50" r="4.05"/><circle cx="267.04" cy="427.20" r="4.05"/><circle cx="268.77" cy="457.90" r="4.05"/><circle cx="270.51" cy="479.50" r="4.05"/><circle cx="272.24" cy="487.00" r="4.05"/><circle cx="273.97" cy="487.00" r="4.05"/><circle cx="275.70" cy="487.00" r="4.05"/><circle cx="277.44" cy="487.00" r="4.05"/><circle cx="279.17" cy="487.00" r="4.05"/><circle cx="280.90" cy="487.00" r="4.05"/><circle cx="282.63" cy="487.00" r="4.05"/><circle cx="284.37" cy="487.00" r="4.05"/><circle cx="286.10" cy="487.00" r="4.05"/><circle cx="287.83" cy="487.00" r="4.05"/><circle cx="289.56" cy="487.00" r="4.05"/><circle cx="291.30" cy="487.00" r="4.05"/><circle cx="293.03" cy="487.00" r="4.05"/><circle cx="294.76" cy="487.00" r="4.05"/><circle cx="296.50" cy="487.00" r="4.05"/><circle cx="298.23" cy="487.00" r="4.05"/><circle cx="299.96" cy="487.00" r="4.05"/><circle cx="301.69" cy="487.00" r="4.05"/><circle cx="303.42" cy="487.00" r="4.05"/><circle cx="305.16" cy="487.00" r="4.05"/><circle cx="306.89" cy="487.00" r="4.05"/><circle cx="308.62" cy="487.00" r="4.05"/><circle cx="310.36" cy="487.00" r="4.05"/><circle cx="312.09" cy="487.00" r="4.05"/><circle cx="313.82" cy="487.00" r="4.05"/><circle cx="315.55" cy="487.00" r="4.05"/><circle cx="317.28" cy="487.00" r="4.05"/><circle cx="319.02" cy="487.00" r="4.05"/><circle cx="320.75" cy="487.00" r="4.05"/><circle cx="322.48" cy="461.10" r="4.05"/><circle cx="324.22" cy="468.90" r="4.05"/><circle cx="325.95" cy="472.50" r="4.05"/><circle cx="327.68" cy="470.30" r="4.05"/><circle cx="329.41" cy="471.00" r="4.05"/></g><text x="138.70" y="440.65" font-size="18" text-anchor="end" fill="#262626" textLength="42.7" lengthAdjust="spacingAndGlyphs">1000</text><text x="138.70" y="467.05" font-size="18" text-anchor="end" fill="#262626" textLength="32.4" lengthAdjust="spacingAndGlyphs">500</text><text x="138.70" y="493.45" font-size="18" text-anchor="end" fill="#262626" textLength="11.8" lengthAdjust="spacingAndGlyphs">0</text><text transform="translate(75.00 501.80) rotate(-90)" font-size="19.6" fill="#262626" textLength="48.6" lengthAdjust="spacingAndGlyphs">TERR</text><text transform="translate(84.80 452.00) rotate(-90)" font-size="14" fill="#262626" textLength="16.0" lengthAdjust="spacingAndGlyphs">M</text><text transform="translate(75.00 432.90) rotate(-90)" font-size="19.6" fill="#262626" textLength="20.1" lengthAdjust="spacingAndGlyphs">SL</text><text transform="translate(159.50 509.20) rotate(-45)" font-size="18" text-anchor="end" fill="#262626" textLength="49" lengthAdjust="spacingAndGlyphs">12/21</text><text transform="translate(201.08 509.20) rotate(-45)" font-size="18" text-anchor="end" fill="#262626" textLength="49" lengthAdjust="spacingAndGlyphs">12/22</text><text transform="translate(242.66 509.20) rotate(-45)" font-size="18" text-anchor="end" fill="#262626" textLength="49" lengthAdjust="spacingAndGlyphs">12/23</text><text transform="translate(284.24 509.20) rotate(-45)" font-size="18" text-anchor="end" fill="#262626" textLength="49" lengthAdjust="spacingAndGlyphs">12/24</text><text transform="translate(325.82 509.20) rotate(-45)" font-size="18" text-anchor="end" fill="#262626" textLength="49" lengthAdjust="spacingAndGlyphs">12/25</text><text transform="translate(367.40 509.20) rotate(-45)" font-size="18" text-anchor="end" fill="#262626" textLength="49" lengthAdjust="spacingAndGlyphs">12/26</text><text x="250.85" y="575.7" font-size="19.6" text-anchor="middle" fill="#262626" textLength="49.8" lengthAdjust="spacingAndGlyphs">Time</text></g>
<g><path d="M491.55 482.74H697.50M491.55 478.48H697.50M491.55 474.22H697.50M491.55 469.95H697.50M491.55 461.43H697.50M491.55 457.17H697.50M491.55 452.91H697.50M491.55 448.65H697.50M491.55 440.12H697.50M491.55 435.86H697.50M491.55 431.60H697.50" stroke="#c2c2c2" stroke-width="1.9" stroke-dasharray="1.25 4.31" fill="none"/><path d="M490.60 444.38H698.50M490.60 465.69H698.50M532.18 427.30V487.30M573.76 427.30V487.30M615.34 427.30V487.30M656.92 427.30V487.30" stroke="#e0e0e0" stroke-width="2.0" fill="none"/><path d="M490.60 444.38h3.4M698.50 444.38h-3.4M490.60 465.69h3.4M698.50 465.69h-3.4M490.60 487.00h3.4M698.50 487.00h-3.4M490.60 427.30v3.4M490.60 487.30v-3.4M532.18 427.30v3.4M532.18 487.30v-3.4M573.76 427.30v3.4M573.76 487.30v-3.4M615.34 427.30v3.4M615.34 487.30v-3.4M656.92 427.30v3.4M656.92 487.30v-3.4M698.50 427.30v3.4M698.50 487.30v-3.4" stroke="#262626" stroke-width="2.2" fill="none"/><rect x="490.60" y="427.30" width="207.90" height="60.00" fill="none" stroke="#262626" stroke-width="2.1"/><g fill="none" stroke="#0072BD" stroke-width="2.3"><circle cx="506.19" cy="487.30" r="4.05"/><circle cx="507.93" cy="487.00" r="4.05"/><circle cx="509.66" cy="485.50" r="4.05"/><circle cx="511.39" cy="484.50" r="4.05"/><circle cx="513.12" cy="470.30" r="4.05"/><circle cx="514.86" cy="455.90" r="4.05"/><circle cx="516.59" cy="440.60" r="4.05"/><circle cx="518.32" cy="435.00" r="4.05"/><circle cx="520.05" cy="434.70" r="4.05"/><circle cx="521.78" cy="433.80" r="4.05"/><circle cx="523.52" cy="451.90" r="4.05"/><circle cx="525.25" cy="471.00" r="4.05"/><circle cx="526.98" cy="484.50" r="4.05"/><circle cx="528.72" cy="486.50" r="4.05"/><circle cx="530.45" cy="487.20" r="4.05"/><circle cx="532.18" cy="487.20" r="4.05"/><circle cx="533.91" cy="487.20" r="4.05"/><circle cx="535.64" cy="487.20" r="4.05"/><circle cx="537.38" cy="487.20" r="4.05"/><circle cx="539.11" cy="487.20" r="4.05"/><circle cx="540.84" cy="487.20" r="4.05"/><circle cx="542.58" cy="487.20" r="4.05"/><circle cx="544.31" cy="487.20" r="4.05"/><circle cx="546.04" cy="487.20" r="4.05"/><circle cx="547.77" cy="487.20" r="4.05"/><circle cx="549.50" cy="487.20" r="4.05"/><circle cx="551.24" cy="486.00" r="4.05"/><circle cx="552.97" cy="484.50" r="4.05"/><circle cx="554.70" cy="462.60" r="4.05"/><circle cx="556.44" cy="440.60" r="4.05"/><circle cx="558.17" cy="426.80" r="4.05"/><circle cx="559.90" cy="432.90" r="4.05"/><circle cx="561.63" cy="440.30" r="4.05"/><circle cx="563.37" cy="451.90" r="4.05"/><circle cx="565.10" cy="464.70" r="4.05"/><circle cx="566.83" cy="474.60" r="4.05"/><circle cx="568.56" cy="487.00" r="4.05"/><circle cx="570.30" cy="487.20" r="4.05"/><circle cx="572.03" cy="487.20" r="4.05"/><circle cx="573.76" cy="487.20" r="4.05"/><circle cx="575.49" cy="487.20" r="4.05"/><circle cx="577.23" cy="487.20" r="4.05"/><circle cx="578.96" cy="487.20" r="4.05"/><circle cx="580.69" cy="487.20" r="4.05"/><circle cx="582.42" cy="487.20" r="4.05"/><circle cx="584.15" cy="487.20" r="4.05"/><circle cx="585.89" cy="487.20" r="4.05"/><circle cx="587.62" cy="487.20" r="4.05"/><circle cx="589.35" cy="487.20" r="4.05"/><circle cx="591.09" cy="487.20" r="4.05"/><circle cx="592.82" cy="485.50" r="4.05"/><circle cx="594.55" cy="482.50" r="4.05"/><circle cx="596.28" cy="477.50" r="4.05"/><circle cx="598.01" cy="470.50" r="4.05"/><circle cx="599.75" cy="470.50" r="4.05"/><circle cx="601.48" cy="474.00" r="4.05"/><circle cx="603.21" cy="477.50" r="4.05"/><circle cx="604.95" cy="482.50" r="4.05"/><circle cx="606.68" cy="485.50" r="4.05"/><circle cx="608.41" cy="487.20" r="4.05"/><circle cx="610.14" cy="487.20" r="4.05"/><circle cx="611.88" cy="487.20" r="4.05"/><circle cx="613.61" cy="487.20" r="4.05"/><circle cx="615.34" cy="487.20" r="4.05"/><circle cx="617.07" cy="487.20" r="4.05"/><circle cx="618.81" cy="487.20" r="4.05"/><circle cx="620.54" cy="487.20" r="4.05"/><circle cx="622.27" cy="487.20" r="4.05"/><circle cx="624.00" cy="487.20" r="4.05"/><circle cx="625.74" cy="487.20" r="4.05"/><circle cx="627.47" cy="487.20" r="4.05"/><circle cx="629.20" cy="487.20" r="4.05"/><circle cx="630.93" cy="487.20" r="4.05"/><circle cx="632.66" cy="487.20" r="4.05"/><circle cx="634.40" cy="487.20" r="4.05"/><circle cx="636.13" cy="487.20" r="4.05"/><circle cx="637.86" cy="487.20" r="4.05"/><circle cx="639.60" cy="487.20" r="4.05"/><circle cx="641.33" cy="487.20" r="4.05"/><circle cx="643.06" cy="487.20" r="4.05"/><circle cx="644.79" cy="487.20" r="4.05"/><circle cx="646.52" cy="487.20" r="4.05"/><circle cx="648.26" cy="487.20" r="4.05"/><circle cx="649.99" cy="487.20" r="4.05"/><circle cx="651.72" cy="487.20" r="4.05"/><circle cx="653.46" cy="487.20" r="4.05"/><circle cx="655.19" cy="487.20" r="4.05"/><circle cx="656.92" cy="487.20" r="4.05"/><circle cx="658.65" cy="487.20" r="4.05"/><circle cx="660.38" cy="487.20" r="4.05"/><circle cx="662.12" cy="487.20" r="4.05"/><circle cx="663.85" cy="487.20" r="4.05"/><circle cx="665.58" cy="487.20" r="4.05"/><circle cx="667.32" cy="487.20" r="4.05"/><circle cx="669.05" cy="487.20" r="4.05"/><circle cx="670.78" cy="487.20" r="4.05"/><circle cx="672.51" cy="487.20" r="4.05"/></g><text x="481.80" y="450.83" font-size="18" text-anchor="end" fill="#262626" textLength="32.4" lengthAdjust="spacingAndGlyphs">100</text><text x="481.80" y="472.14" font-size="18" text-anchor="end" fill="#262626" textLength="22.1" lengthAdjust="spacingAndGlyphs">50</text><text x="481.80" y="493.45" font-size="18" text-anchor="end" fill="#262626" textLength="11.8" lengthAdjust="spacingAndGlyphs">0</text><text transform="translate(398.80 502.80) rotate(-90)" font-size="19.6" fill="#262626" textLength="40.6" lengthAdjust="spacingAndGlyphs">SUN</text><text transform="translate(408.60 458.20) rotate(-90)" font-size="14" fill="#262626" textLength="9.2" lengthAdjust="spacingAndGlyphs">F</text><text transform="translate(398.80 447.70) rotate(-90)" font-size="19.6" fill="#262626" textLength="36.5" lengthAdjust="spacingAndGlyphs">LUX</text><text transform="translate(502.60 509.20) rotate(-45)" font-size="18" text-anchor="end" fill="#262626" textLength="49" lengthAdjust="spacingAndGlyphs">12/21</text><text transform="translate(544.18 509.20) rotate(-45)" font-size="18" text-anchor="end" fill="#262626" textLength="49" lengthAdjust="spacingAndGlyphs">12/22</text><text transform="translate(585.76 509.20) rotate(-45)" font-size="18" text-anchor="end" fill="#262626" textLength="49" lengthAdjust="spacingAndGlyphs">12/23</text><text transform="translate(627.34 509.20) rotate(-45)" font-size="18" text-anchor="end" fill="#262626" textLength="49" lengthAdjust="spacingAndGlyphs">12/24</text><text transform="translate(668.92 509.20) rotate(-45)" font-size="18" text-anchor="end" fill="#262626" textLength="49" lengthAdjust="spacingAndGlyphs">12/25</text><text transform="translate(710.50 509.20) rotate(-45)" font-size="18" text-anchor="end" fill="#262626" textLength="49" lengthAdjust="spacingAndGlyphs">12/26</text><text x="593.95" y="575.7" font-size="19.6" text-anchor="middle" fill="#262626" textLength="49.8" lengthAdjust="spacingAndGlyphs">Time</text></g>
<text x="251.2" y="31.7" font-size="20.8" font-weight="bold" text-anchor="middle" fill="#000" textLength="138" lengthAdjust="spacingAndGlyphs">Figure 1 high</text>
</svg>
</body></html>
